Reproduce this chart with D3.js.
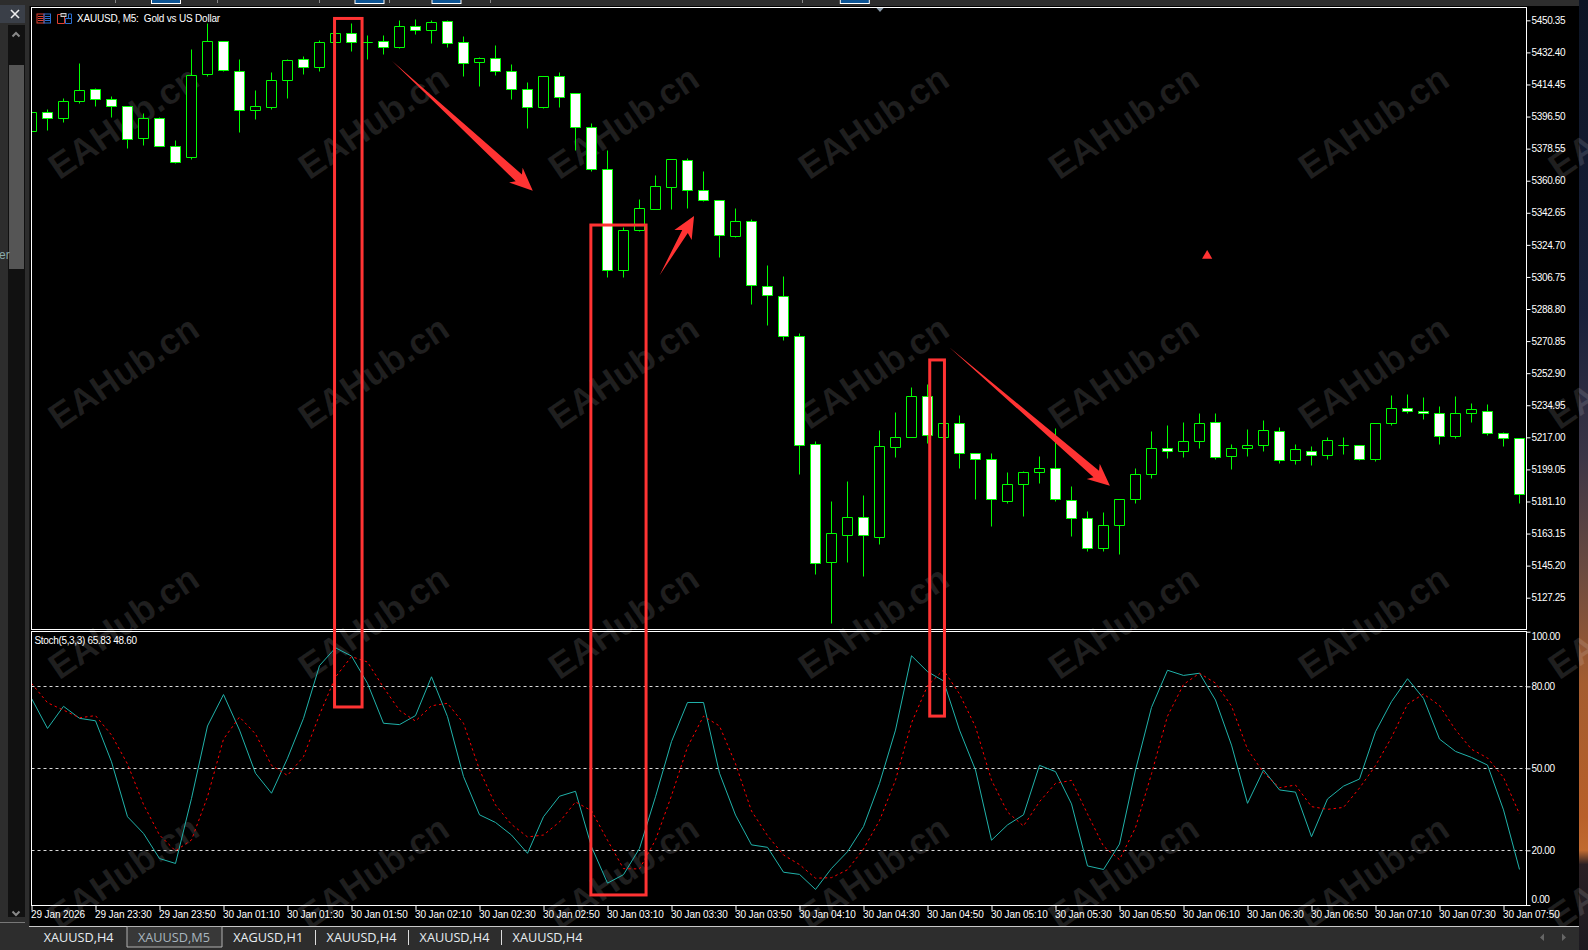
<!DOCTYPE html>
<html><head><meta charset="utf-8">
<style>html,body{margin:0;padding:0;background:#2d2d2d;overflow:hidden}svg{display:block;font-family:"Liberation Sans",sans-serif}</style>
<script src="https://cdnjs.cloudflare.com/ajax/libs/d3/7.8.5/d3.min.js"></script>
</head><body><svg id="c" width="1588" height="950"></svg>
<script>
const opens=[5388.1,5398.7,5395.5,5404.9,5411.8,5406.2,5402.1,5384.3,5395.5,5379.9,
5373.7,5420.1,5438.6,5421.6,5400.0,5401.5,5416.8,5428.5,5424.1,5438.0,
5443.1,5438.2,5438.6,5435.3,5447.0,5444.8,5449.8,5438.0,5426.9,5429.1,
5421.8,5411.8,5401.5,5419.0,5409.5,5390.5,5367.0,5310.5,5332.9,5344.4,
5356.9,5372.0,5355.2,5349.6,5329.3,5337.9,5301.5,5295.9,5273.5,5213.1,
5147.1,5162.2,5172.3,5161.1,5211.4,5217.0,5240.0,5217.0,5224.8,5208.1,
5204.7,5181.2,5190.7,5197.4,5199.7,5181.8,5171.7,5154.9,5167.8,5182.3,
5196.3,5210.9,5209.2,5214.8,5225.4,5206.4,5210.9,5212.5,5220.4,5204.1,
5209.2,5206.9,5212.5,5212.5,5204.7,5224.8,5233.2,5231.6,5230.4,5217.6,5230.4,5231.6,5219.3,5216.5];
const closes=[5398.7,5395.5,5405.0,5411.0,5406.2,5402.1,5383.8,5395.5,5379.9,5370.7,
5419.4,5438.6,5422.2,5400.0,5402.2,5416.8,5428.0,5424.1,5438.0,5443.1,
5438.0,5438.2,5435.3,5447.0,5444.8,5449.2,5437.5,5426.3,5429.1,5421.8,
5411.8,5401.7,5419.0,5407.3,5390.5,5367.0,5310.5,5332.9,5345.2,5357.5,
5372.6,5355.2,5349.6,5330.1,5337.9,5302.1,5296.5,5273.6,5212.5,5146.5,
5163.3,5172.3,5162.2,5212.0,5217.0,5240.0,5218.1,5224.8,5208.1,5204.7,
5182.3,5190.7,5197.4,5199.7,5182.3,5171.7,5154.9,5167.8,5182.3,5196.3,
5210.9,5209.2,5214.8,5224.8,5205.8,5210.9,5212.5,5220.9,5204.1,5210.3,
5206.9,5215.3,5212.5,5204.7,5224.8,5233.2,5231.6,5230.4,5217.6,5230.4,5232.7,5219.3,5216.5,5185.1];
const highs=[5398.7,5400.2,5406.7,5426.3,5412.3,5407.8,5402.1,5398.3,5396.1,5383.2,
5434.1,5448.7,5438.6,5428.5,5411.2,5421.3,5428.5,5430.2,5439.2,5443.6,
5448.3,5442.0,5442.0,5450.4,5450.9,5450.4,5450.4,5441.4,5429.7,5436.4,
5425.7,5415.7,5419.0,5421.3,5409.5,5392.7,5377.6,5334.5,5350.2,5363.6,
5372.6,5373.1,5365.9,5349.6,5345.2,5339.0,5313.3,5307.1,5275.2,5214.8,
5181.2,5192.4,5184.6,5220.9,5231.0,5245.0,5246.7,5224.8,5229.3,5208.1,
5208.1,5197.4,5198.0,5206.4,5222.1,5189.6,5175.6,5175.1,5182.3,5199.7,
5220.4,5223.7,5225.4,5230.4,5230.4,5213.1,5221.5,5226.5,5222.6,5213.1,
5212.0,5217.0,5217.0,5212.5,5224.8,5240.5,5241.1,5239.4,5234.4,5240.0,5236.0,5235.5,5219.8,5216.5];
const lows=[5388.1,5388.6,5393.1,5403.7,5402.1,5395.9,5378.6,5380.2,5379.9,5370.2,
5372.4,5418.8,5421.6,5387.5,5394.8,5400.4,5406.5,5420.0,5421.6,5438.0,
5432.8,5428.4,5431.1,5434.5,5442.3,5437.3,5435.1,5418.8,5413.2,5419.4,
5406.0,5389.7,5400.9,5401.5,5377.4,5365.7,5306.4,5306.4,5332.3,5344.4,
5344.4,5345.0,5348.9,5317.6,5328.8,5291.3,5279.5,5271.1,5196.1,5140.2,
5112.8,5146.9,5139.1,5157.0,5205.6,5217.0,5213.5,5217.0,5199.5,5182.1,
5167.0,5179.9,5172.6,5191.1,5181.2,5161.4,5153.2,5153.2,5151.4,5179.9,
5193.9,5205.1,5205.6,5210.7,5204.5,5198.9,5206.2,5209.0,5202.3,5201.7,
5201.2,5204.5,5207.3,5204.0,5203.4,5223.7,5230.3,5227.1,5212.9,5216.5,5225.4,5217.9,5211.8,5179.9];
const stochMain=[75.6,64.6,72.7,68.3,67.4,52.4,32.3,26.2,17.0,15.2,39.0,65.5,77.0,64.0,48.2,40.9,53.7,68.3,87.6,94.1,91.1,81.1,66.5,66.0,69.3,83.5,68.9,47.0,33.0,30.2,25.6,18.9,
32.3,39.8,41.6,21.3,8.0,11.1,20.7,39.6,59.8,74.1,74.1,48.2,32.9,22.0,21.1,12.0,11.2,5.7,13.4,19.5,28.7,44.5,64.0,91.2,85.4,82.0,64.0,49.4,23.7,29.3,33.0,51.1,48.8,
37.0,14.3,13.0,22.3,49.4,72.3,85.9,84.0,84.8,75.0,58.5,37.2,49.4,42.1,41.3,25.0,38.8,43.5,46.1,63.4,74.4,82.8,75.6,60.7,56.2,54.0,51.2,34.8,13.0];
const stochSignal=[81.1,74.0,71.3,68.5,69.3,62.2,51.6,36.8,25.6,19.8,23.8,39.6,60.7,68.8,62.6,51.1,47.4,54.3,69.6,83.4,90.9,88.9,79.6,71.2,67.3,72.9,73.8,66.5,49.5,36.6,29.5,24.9,
25.6,30.4,37.7,34.5,23.7,13.3,13.2,23.8,40.0,57.8,69.1,65.5,51.7,34.4,25.4,18.3,14.8,9.8,10.0,12.9,20.5,30.9,45.7,66.6,80.2,86.0,77.2,65.2,45.7,34.0,28.9,37.8,44.5,
45.6,33.3,21.5,16.6,28.3,48.0,69.1,80.7,84.8,81.2,72.8,57.0,48.4,42.9,43.9,36.0,35.0,35.7,42.8,51.0,61.3,73.5,77.2,73.0,64.1,57.0,53.8,46.7,33.3];
const priceTicks=[5450.35,5432.40,5414.45,5396.50,5378.55,5360.60,5342.65,5324.70,5306.75,5288.80,5270.85,5252.90,5234.95,5217.00,5199.05,5181.10,5163.15,5145.20,5127.25];
const stochTicks=[100,80,50,20,0];
const stochLevels=[80,50,20];
const timeLabels=["29 Jan 2026","29 Jan 23:30","29 Jan 23:50","30 Jan 01:10","30 Jan 01:30","30 Jan 01:50","30 Jan 02:10","30 Jan 02:30","30 Jan 02:50","30 Jan 03:10","30 Jan 03:30","30 Jan 03:50","30 Jan 04:10","30 Jan 04:30","30 Jan 04:50","30 Jan 05:10","30 Jan 05:30","30 Jan 05:50","30 Jan 06:10","30 Jan 06:30","30 Jan 06:50","30 Jan 07:10","30 Jan 07:30","30 Jan 07:50"];
const tabLabels=["XAUUSD,H4","XAUUSD,M5","XAGUSD,H1","XAUUSD,H4","XAUUSD,H4","XAUUSD,H4"];
const tabCenters=[78.6,174,268.2,361.5,454.5,547.5];
const highlightBoxes=[[18.94,20.66,5451.4,5066.1],[34.96,38.41,5335.8,4960.9],[56.14,57.06,5260.3,5061.0]];
const arrows=[[22.54,5427.6,31.33,5355.0,23,10,4.6],[39.26,5307.7,41.41,5340.9,22,10,3.2],[57.36,5267.4,67.4,5189.9,22,10,4.2]];
const redMarker=[73.48,5318.6];

const svg=d3.select("#c"), RED="#ff3333", GREEN="#00ff00";
const L=31.5,R=1526.5,T=7.5,PB=629.5,ST=631.5,SB=905.5;
const bars=d3.range(opens.length);
const x=d3.scaleLinear().domain([0,bars.length-1]).range([31.5,31.5+16*(bars.length-1)]);
const yP=d3.scaleLinear().domain([5450.35,5127.25]).range([20.33,597.7]);
const yS=d3.scaleLinear().domain([100,0]).range([631.7,905]);
const snap=v=>Math.round(v-.5)+.5;

// shell
svg.append("rect").attr("width",1588).attr("height",950).attr("fill","#2d2d2d");
const defs=svg.append("defs");
const grad=defs.append("linearGradient").attr("id","wall").attr("x2",0).attr("y2",1);
[[0,"#0c1424"],[.33,"#18203a"],[.48,"#3b3546"],[.6,"#6a4a40"],[.72,"#a35c30"],[.86,"#b8602a"],[.895,"#c06a30"],[.91,"#2a2024"],[1,"#1c1a20"]].forEach(s=>grad.append("stop").attr("offset",s[0]).attr("stop-color",s[1]));
svg.append("rect").attr("x",1579).attr("width",9).attr("height",950).attr("fill","url(#wall)");
svg.append("rect").attr("x",29.5).attr("y",6).attr("width",1549.5).attr("height",920).attr("fill","#000");
svg.append("rect").attr("x",8).attr("y",25).attr("width",17).attr("height",892).attr("fill","#111");
svg.append("rect").attr("x",9).attr("y",65).attr("width",15).attr("height",204).attr("fill","#555");
svg.append("rect").attr("x",0).attr("y",5).attr("width",25).attr("height",18).attr("fill","#3a3f48");
svg.append("line").attr("x1",0).attr("x2",25).attr("y1",922.5).attr("y2",922.5).attr("stroke","#777");
svg.append("path").attr("d","M11 10L19 18M19 10L11 18").attr("stroke","#eee").attr("stroke-width",1.6).attr("fill","none");
svg.append("path").attr("d","M12.5 36.5L16 33L19.5 36.5").attr("stroke","#888").attr("stroke-width",2).attr("fill","none");
svg.append("path").attr("d","M12.5 911.5L16 915L19.5 911.5").attr("stroke","#888").attr("stroke-width",2).attr("fill","none");
svg.append("text").attr("x",-1).attr("y",259).attr("font-size",12).attr("fill","#8aa").text("er");
// top strip tabs
[[151.5,29],[355,29],[432,29],[840.3,29]].forEach(t=>svg.append("rect").attr("x",t[0]).attr("y",-2).attr("width",t[1]).attr("height",5.5).attr("fill","#0b5394").attr("stroke","#fff"));
[115,217,319,389,490,802].forEach(v=>svg.append("rect").attr("x",v).attr("y",0).attr("width",1).attr("height",3).attr("fill","#888"));
svg.append("path").attr("d","M876 7.5L884 7.5L880 12Z").attr("fill","#8a9aa8");

// watermark
defs.append("clipPath").attr("id","wm").append("rect").attr("x",29.5).attr("y",7).attr("width",1558.5).attr("height",919);
defs.append("clipPath").attr("id","pp").append("rect").attr("x",L).attr("y",T).attr("width",R-L).attr("height",PB-T);
const wm=svg.append("g").attr("clip-path","url(#wm)");
d3.range(0,7).forEach(k=>d3.range(0,4).forEach(m=>{
 const cx=123.5+250*k, cy=122+250*m;
 wm.append("text").attr("transform",`translate(${cx},${cy}) rotate(-34)`).attr("text-anchor","middle").attr("dy",".35em")
   .attr("font-size",36).attr("font-weight",700).attr("fill","#fff").attr("fill-opacity",.12).text("EAHub.cn");
}));

// stochastic
svg.append("g").selectAll("line").data(stochLevels).join("line").attr("x1",L).attr("x2",R).attr("y1",d=>snap(yS(d))).attr("y2",d=>snap(yS(d)))
  .attr("stroke","#d8d8d8").attr("stroke-width",1).attr("stroke-dasharray","3 3");
const line=d3.line().x((d,i)=>x(i)).y(d=>yS(d));
svg.append("path").attr("d",line(stochMain)).attr("fill","none").attr("stroke","#20b2aa").attr("stroke-width",1);
svg.append("path").attr("d",line(stochSignal)).attr("fill","none").attr("stroke","#ff0000").attr("stroke-width",1).attr("stroke-dasharray","2.5 3");

// candles
const cg=svg.append("g").attr("clip-path","url(#pp)");
cg.selectAll("line").data(bars).join("line").attr("x1",i=>x(i)).attr("x2",i=>x(i))
  .attr("y1",i=>snap(yP(highs[i]))).attr("y2",i=>snap(yP(lows[i]))).attr("stroke",GREEN).attr("stroke-width",1);
cg.selectAll("path").data(bars).join("path")
  .attr("d",i=>{const t=snap(yP(Math.max(opens[i],closes[i]))),b=snap(yP(Math.min(opens[i],closes[i])));
     return d3.line()([[x(i)-5,t],[x(i)+5,t],[x(i)+5,b],[x(i)-5,b]])+"Z";})
  .attr("fill",i=>closes[i]<opens[i]?"#fff":"#000").attr("stroke",GREEN).attr("stroke-width",1);

// frames
const frame=(a,b,c,d)=>svg.append("rect").attr("x",a).attr("y",b).attr("width",c-a).attr("height",d-b).attr("fill","none").attr("stroke","#fff").attr("stroke-width",1);
frame(L,T,R,PB); frame(L,ST,R,SB);

// axes
const axP=svg.append("g").attr("transform",`translate(${R},0)`).call(d3.axisRight(yP).tickValues(priceTicks).tickSize(4).tickPadding(1).tickFormat(d3.format(".2f")));
const axS=svg.append("g").attr("transform",`translate(${R},0)`).call(d3.axisRight(yS).tickValues(stochTicks).tickSize(4).tickPadding(1).tickFormat(d3.format(".2f")));
const axX=svg.append("g").attr("transform",`translate(0,${SB})`).call(d3.axisBottom(x).tickValues(timeLabels.map((d,i)=>i*4)).tickSize(5).tickPadding(0).tickFormat((d,i)=>timeLabels[i]));
[axP,axS,axX].forEach(a=>{a.select(".domain").remove();a.selectAll("line").attr("stroke","#fff");
  a.selectAll("text").attr("fill","#fff").attr("font-family","Liberation Sans").attr("font-size",10).style("letter-spacing","-0.35px");});
axX.selectAll("text").attr("text-anchor","start").attr("dx",-1).style("letter-spacing","-0.1px");
axS.selectAll("text").attr("dy",d=>d===100?"0.8em":d===0?"-0.3em":"0.32em");

// labels
svg.append("text").attr("x",77).attr("y",22).attr("font-size",10).attr("fill","#fff").style("letter-spacing","-0.2px").style("white-space","pre").text("XAUUSD, M5:  Gold vs US Dollar");
svg.append("text").attr("x",34.5).attr("y",644).attr("font-size",10).attr("fill","#fff").style("letter-spacing","-0.33px").text("Stoch(5,3,3) 65.83 48.60");
// header icons
svg.append("rect").attr("x",37).attr("y",14).attr("width",7).attr("height",9).attr("fill","none").attr("stroke","#e04030");
svg.append("rect").attr("x",44).attr("y",14).attr("width",6.5).attr("height",9).attr("fill","none").attr("stroke","#2a6fd0");
[16.5,18.5,20.5].forEach(v=>{svg.append("line").attr("x1",38).attr("x2",43.5).attr("y1",v).attr("y2",v).attr("stroke","#e04030");
 svg.append("line").attr("x1",45).attr("x2",50).attr("y1",v).attr("y2",v).attr("stroke","#2a6fd0");});
svg.append("path").attr("d","M57.5 14.5H64.5V23.5H57.5Z").attr("fill","none").attr("stroke","#e04030");
svg.append("path").attr("d","M65.5 18.5H71.5V23.5H65.5Z M68.5 14H71.5V18.5H68.5Z").attr("fill","none").attr("stroke","#2a6fd0");
svg.append("rect").attr("x",61).attr("y",13.5).attr("width",5).attr("height",3).attr("fill","#333").attr("stroke","#ccc");

// annotations
const ann=svg.append("g");
ann.selectAll("rect").data(highlightBoxes).join("rect")
  .attr("x",d=>x(d[0])).attr("width",d=>x(d[1])-x(d[0])).attr("y",d=>yP(d[2])).attr("height",d=>yP(d[3])-yP(d[2]))
  .attr("fill","none").attr("stroke",RED).attr("stroke-width",3);
ann.selectAll("path.ar").data(arrows).join("path").attr("class","ar").attr("fill",RED).attr("d",d=>{
  const x0=x(d[0]),y0=yP(d[1]),x1=x(d[2]),y1=yP(d[3]),len=Math.hypot(x1-x0,y1-y0),ux=(x1-x0)/len,uy=(y1-y0)/len,nx=-uy,ny=ux;
  const bx=x1-ux*d[4],by=y1-uy*d[4];
  const pt=(ax,ay,o)=>[ax+nx*o,ay+ny*o];
  return d3.line()([[x0,y0],pt(bx+ux*4,by+uy*4,d[6]),pt(bx,by,d[5]),[x1,y1],pt(bx,by,-d[5]),pt(bx+ux*4,by+uy*4,-d[6])])+"Z";
});
ann.append("path").attr("d",d3.symbol(d3.symbolTriangle,45)()).attr("fill",RED).attr("transform",`translate(${x(redMarker[0])},${yP(redMarker[1])})`);

// tab bar
svg.append("rect").attr("x",0).attr("y",926).attr("width",1579).attr("height",24).attr("fill","#2d2d2d");
svg.append("line").attr("x1",29).attr("x2",1579).attr("y1",926.5).attr("y2",926.5).attr("stroke","#c8c8c8");
svg.append("path").attr("d","M127 947V926.5H222V947H127").attr("fill","#383838").attr("stroke","#b0b0b0");
svg.selectAll("text.tab").data(tabLabels).join("text").attr("class","tab").attr("x",(d,i)=>tabCenters[i]).attr("y",942).attr("text-anchor","middle")
  .attr("font-family","Open Sans, Liberation Sans").attr("font-size",12.7).attr("fill",(d,i)=>i===1?"#a9b6bf":"#e8eef2").text(d=>d);
[315.5,408.5,501.5].forEach(v=>svg.append("line").attr("x1",v).attr("x2",v).attr("y1",930).attr("y2",945).attr("stroke","#ddd"));
svg.append("path").attr("d","M1544 933.5L1540 937.5L1544 941ZM1562 933.5L1566 937.5L1562 941Z").attr("fill","#666");
</script></body></html>
